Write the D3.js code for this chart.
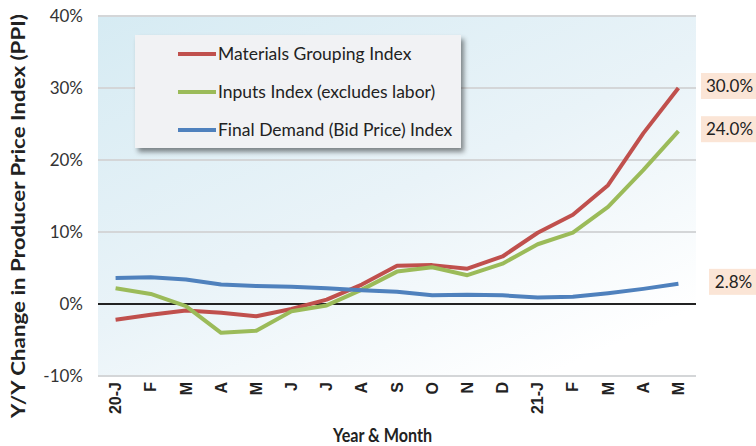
<!DOCTYPE html>
<html>
<head>
<meta charset="utf-8">
<script src="https://cdn.jsdelivr.net/npm/d3@7"></script>
<style>
  body { margin: 0; background: #fff; }
  svg { font-family: "Lato", "DejaVu Sans", sans-serif; }
</style>
</head>
<body>
<div class="chart"></div>
<script>
// months Jan 2020 .. May 2021
var months = ["20-J","F","M","A","M","J","J","A","S","O","N","D","21-J","F","M","A","M"];
var materials = [-2.2,-1.5,-0.9,-1.2,-1.7,-0.7,0.6,2.7,5.3,5.4,4.9,6.6,9.9,12.4,16.5,23.7,30.0];
var inputs    = [2.2,1.4,-0.3,-4.0,-3.7,-1.0,-0.2,2.0,4.5,5.1,4.0,5.6,8.3,9.9,13.5,18.6,24.0];
var finalDemand = [3.6,3.7,3.4,2.7,2.5,2.4,2.2,1.9,1.7,1.2,1.3,1.2,0.9,1.0,1.5,2.1,2.8];
var yTicks = [-10,0,10,20,30,40];
var seriesNames = ["Materials Grouping Index","Inputs Index (excludes labor)","Final Demand (Bid Price) Index"];
var seriesColors = ["#c0504d","#9bbb59","#4f81bd"];

var margin = {top: 16, right: 60, bottom: 70, left: 98},
    width = 756 - margin.left - margin.right,
    height = 446 - margin.top - margin.bottom;

var svg = d3.select(".chart").append("svg")
    .attr("width", 756)
    .attr("height", 446);

var defs = svg.append("defs");
var grad = defs.append("linearGradient")
    .attr("id", "bg").attr("x1", "0%").attr("y1", "0%").attr("x2", "75%").attr("y2", "100%");
grad.append("stop").attr("offset", "0%").attr("stop-color", "#d6ebf3");
grad.append("stop").attr("offset", "55%").attr("stop-color", "#e9f3f8");
grad.append("stop").attr("offset", "100%").attr("stop-color", "#ffffff");

var shadow = defs.append("filter").attr("id", "shadow")
    .attr("x", "-5%").attr("y", "-5%").attr("width", "115%").attr("height", "130%");
shadow.append("feDropShadow").attr("dx", 3).attr("dy", 4).attr("stdDeviation", 2.5)
    .attr("flood-color", "#000").attr("flood-opacity", 0.45);

var g = svg.append("g").attr("transform", "translate(" + margin.left + "," + margin.top + ")");

var x = d3.scaleBand().domain(d3.range(months.length)).range([0, width]);
var y = d3.scaleLinear().domain([-10, 40]).range([height, 0]);
var cx = function(i) { return x(i) + x.bandwidth() / 2; };

g.append("rect").attr("width", width).attr("height", height).attr("fill", "url(#bg)");

// gridlines
g.selectAll(".grid").data(yTicks).enter().append("line")
    .attr("x1", 0).attr("x2", width)
    .attr("y1", function(d) { return y(d); }).attr("y2", function(d) { return y(d); })
    .attr("stroke", function(d) { return d === 0 ? "#222" : "#d4d6d8"; })
    .attr("stroke-width", 2);

// y axis labels
var yAxis = d3.axisLeft(y).tickValues(yTicks).tickSize(0).tickPadding(15)
    .tickFormat(function(d) { return d + "%"; });
g.append("g").call(yAxis)
    .call(function(s) { s.select(".domain").remove(); })
    .selectAll("text").attr("font-size", 17).attr("fill", "#333")
    .attr("font-family", "Lato, sans-serif");

// x axis labels
var xAxis = d3.axisBottom(x).tickSize(0).tickFormat(function(i) { return months[i]; });
g.append("g").attr("transform", "translate(0," + height + ")").call(xAxis)
    .call(function(s) { s.select(".domain").remove(); })
    .selectAll("text")
    .attr("transform", "rotate(-90)")
    .attr("x", -6).attr("y", 0).attr("dy", "0.35em")
    .style("text-anchor", "end")
    .attr("font-size", 16).attr("font-weight", "bold").attr("fill", "#222");

// lines
var line = d3.line().x(function(d, i) { return cx(i); }).y(function(d) { return y(d); });
[materials, inputs, finalDemand].forEach(function(s, k) {
  g.append("path").datum(s)
    .attr("fill", "none").attr("stroke", seriesColors[k]).attr("stroke-width", 4)
    .attr("stroke-linejoin", "round").attr("d", line);
});

// end value labels
var last = months.length - 1;
[materials, inputs, finalDemand].forEach(function(s, k) {
  var v = s[last];
  var txt = v.toFixed(1) + "%";
  var w = txt.length > 4 ? 55 : 47;
  var lab = g.append("g").attr("transform", "translate(" + (756 - margin.left - w) + "," + (y(v) - 2) + ")");
  lab.append("rect").attr("x", 0).attr("y", -13).attr("width", w).attr("height", 26).attr("fill", "#fbe5d6");
  lab.append("text").attr("x", w / 2 + 1).attr("y", 0).attr("dy", "0.35em")
    .attr("text-anchor", "middle").attr("font-size", 17).attr("fill", "#222").text(txt);
});

// legend
var leg = g.append("g").attr("transform", "translate(" + (135 - margin.left) + "," + (35 - margin.top) + ")");
leg.append("rect").attr("width", 326).attr("height", 113).attr("fill", "#f1f2f4").attr("filter", "url(#shadow)");
seriesNames.forEach(function(n, k) {
  var ry = 19 + k * 38;
  leg.append("line").attr("x1", 43).attr("x2", 81).attr("y1", ry).attr("y2", ry)
    .attr("stroke", seriesColors[k]).attr("stroke-width", 4);
  leg.append("text").attr("x", 83).attr("y", ry).attr("dy", "0.35em")
    .attr("font-size", 17.5).attr("fill", "#222").text(n);
});

// axis titles
svg.append("text")
    .attr("x", 333).attr("y", 442)
    .attr("font-size", 18).attr("font-weight", "bold").attr("fill", "#222")
    .attr("textLength", 99).attr("lengthAdjust", "spacingAndGlyphs")
    .text("Year & Month");
svg.append("text")
    .attr("transform", "translate(25,418) rotate(-90)")
    .attr("font-size", 19).attr("font-weight", "bold").attr("fill", "#222")
    .attr("textLength", 404).attr("lengthAdjust", "spacingAndGlyphs")
    .text("Y/Y Change in Producer Price Index (PPI)");
</script>
</body>
</html>
